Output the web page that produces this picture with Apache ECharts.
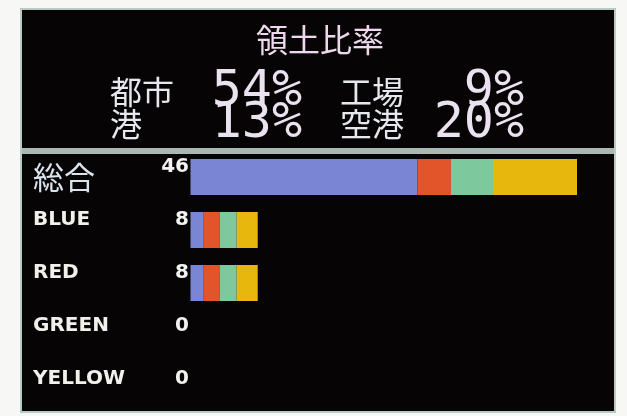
<!DOCTYPE html>
<html>
<head>
<meta charset="utf-8">
<script src="https://cdn.jsdelivr.net/npm/echarts@6/dist/echarts.min.js"></script>
<style>
html,body{margin:0;padding:0;background:#f7f7f5;}
#chart{width:627px;height:416px;}
</style>
</head>
<body>
<div id="chart"></div>
<script>
// ---- data ----
const categories = ['総合', 'BLUE', 'RED', 'GREEN', 'YELLOW'];
const totals = [46, 8, 8, 0, 0];
const cityVals = [27, 1.5, 1.5, 0, 0];
const factoryVals = [4, 2, 2, 0, 0];
const portVals = [5, 2, 2, 0, 0];
const airportVals = [10, 2.5, 2.5, 0, 0];
const seriesNames = ['都市', '工場', '港', '空港'];
const titleText = '領土比率';
const shareNames = ['都市', '工場', '港', '空港'];
const sharePct = [54, 9, 13, 20];

// ---- styles ----
const colors = ['#7a86d4', '#e2552b', '#7dc89c', '#e8b70e'];
const kanjiFont = '"Noto Sans CJK JP"';
const monoFont = '"DejaVu Sans Mono"';

const chart = echarts.init(document.getElementById('chart'));

// top panel texts
const topTexts = [];
topTexts.push({
  type: 'text', z: 10,
  style: { text: titleText, x: 320, y: 40, fill: '#efd8ef',
    font: '32px ' + kanjiFont, textAlign: 'center', textVerticalAlign: 'middle',
    align: 'center', verticalAlign: 'middle' }
});
const nameX = [110, 340], pctX = [302, 524], rowY = [92, 124];
shareNames.forEach(function (n, i) {
  const col = i % 2, row = Math.floor(i / 2);
  topTexts.push({
    type: 'text', z: 10,
    style: { text: n, x: nameX[col], y: rowY[row], fill: '#e6e8ee',
      font: '32px ' + kanjiFont, textAlign: 'left', textVerticalAlign: 'middle',
      align: 'left', verticalAlign: 'middle' }
  });
  topTexts.push({
    type: 'text', z: 10,
    style: { text: sharePct[i] + '%', x: pctX[col], y: rowY[row], fill: '#ebe2f0',
      font: '50px ' + monoFont, textAlign: 'right', textVerticalAlign: 'middle',
      align: 'right', verticalAlign: 'middle' }
  });
});

const valsList = [cityVals, factoryVals, portVals, airportVals];

const option = {
  backgroundColor: '#f7f7f5',
  animation: false,
  graphic: [
    { type: 'rect', z: -10, shape: { x: 21, y: 9, width: 594, height: 403 },
      style: { fill: '#060404', stroke: '#b9c9c6', lineWidth: 2 } },
    { type: 'rect', z: -5, shape: { x: 22, y: 148, width: 592, height: 6 },
      style: { fill: '#a9b8b2' } }
  ].concat(topTexts),
  grid: { left: 190.5, right: 50, top: 150.5, bottom: 0.5 },
  xAxis: { type: 'value', min: 0, max: Math.max.apply(null, totals), show: false },
  yAxis: [
    {
      type: 'category', data: categories, inverse: true,
      axisLine: { show: false }, axisTick: { show: false }, splitLine: { show: false },
      axisLabel: {
        margin: 1.5,
        formatter: function (v, idx) { return '{v|' + totals[idx] + '}'; },
        rich: { v: { fontFamily: '"DejaVu Sans"', fontWeight: 'bold', fontSize: 20,
          color: '#f2f2f0', padding: [0, 0, 20, 0] } }
      }
    },
    {
      type: 'category', data: categories, inverse: true, position: 'left',
      axisLine: { show: false }, axisTick: { show: false }, splitLine: { show: false },
      axisLabel: {
        margin: 157.5, align: 'left',
        formatter: function (v, idx) { return idx === 0 ? '{big|' + v + '}' : '{sm|' + v + '}'; },
        rich: {
          big: { fontFamily: kanjiFont, fontSize: 31, color: '#dbe4ee' },
          sm: { fontFamily: '"DejaVu Sans"', fontWeight: 'bold', fontSize: 20,
            color: '#f2f0ea', padding: [0, 0, 20, 0] }
        }
      }
    }
  ],
  series: seriesNames.map(function (n, i) {
    return {
      name: n, type: 'bar', stack: 'all', yAxisIndex: 0,
      barWidth: 36, data: valsList[i],
      itemStyle: { color: colors[i] }
    };
  })
};
chart.setOption(option);
</script>
</body>
</html>
